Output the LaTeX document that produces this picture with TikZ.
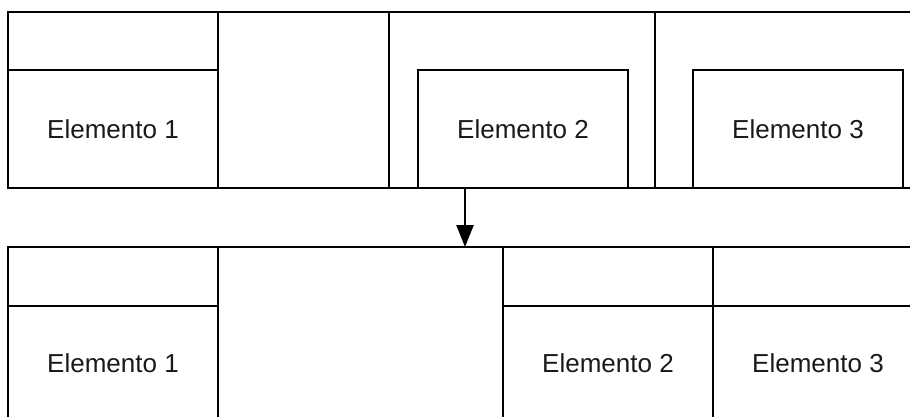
\documentclass[tikz,border=0pt]{standalone}
\usepackage{fontspec}
\setmainfont{Liberation Sans}
\usetikzlibrary{arrows.meta}
\begin{document}
\begin{tikzpicture}[x=1pt,y=-1pt,
  box/.style={draw=black, line width=2.6pt, inner sep=0pt, outer sep=0pt, anchor=north west,
    font=\fontsize{26}{30}\selectfont, text=black!90},
  conn/.style={draw=black, line width=2.6pt, -{Triangle[length=22pt,width=17pt]}},
]
\useasboundingbox (0,0) rectangle (910,417);
\clip (0,0) rectangle (910,417);
% top row
\node[box, minimum width=210pt, minimum height=58pt] (t1h) at (8,12) {};
\node[box, minimum width=210pt, minimum height=118pt] (t1) at (8,70) {Elemento 1};
\node[box, minimum width=171pt, minimum height=176pt] (t2) at (218,12) {};
\node[box, minimum width=266pt, minimum height=176pt] (t3) at (389,12) {};
\node[box, minimum width=210pt, minimum height=118pt] (t3e) at (418,70) {Elemento 2};
\node[box, minimum width=290pt, minimum height=176pt] (t4) at (655,12) {};
\node[box, minimum width=210pt, minimum height=118pt] (t4e) at (693,70) {Elemento 3};
% bottom row
\node[box, minimum width=210pt, minimum height=59pt] (b1h) at (8,247) {};
\node[box, minimum width=210pt, minimum height=114pt] (b1) at (8,306) {Elemento 1};
\node[box, minimum width=285pt, minimum height=173pt] (b2) at (218,247) {};
\node[box, minimum width=210pt, minimum height=59pt] (b3h) at (503,247) {};
\node[box, minimum width=210pt, minimum height=114pt] (b3) at (503,306) {Elemento 2};
\node[box, minimum width=210pt, minimum height=59pt] (b4h) at (713,247) {};
\node[box, minimum width=210pt, minimum height=114pt] (b4) at (713,306) {Elemento 3};
% connector
\coordinate (a1) at (465,188);
\coordinate (a2) at (465,247);
\draw[conn] (a1) -- (a2);
\end{tikzpicture}
\end{document}
